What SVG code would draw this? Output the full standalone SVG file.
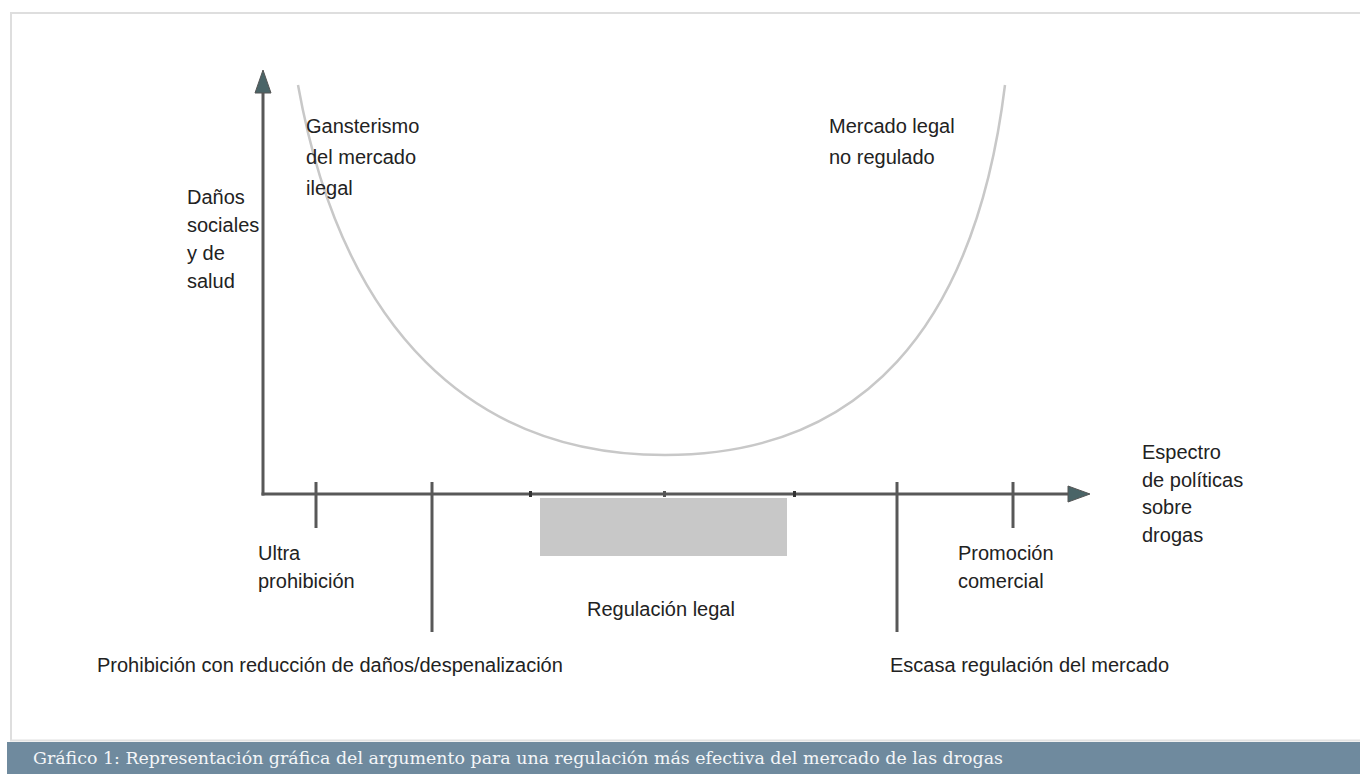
<svg xmlns="http://www.w3.org/2000/svg" width="1360" height="774" viewBox="0 0 1360 774">
<style>
.lbl{font-family:"Liberation Sans",Arial,sans-serif;font-size:20px;fill:#222}
.ax{stroke:#585858;stroke-width:3;fill:none}
.tick{stroke:#585858;stroke-width:3}
.cap{font-family:"DejaVu Serif","Liberation Serif",serif;font-size:17.5px;fill:#f4f6f8}
</style>
<rect width="1360" height="774" fill="#ffffff"/>
<g id="frame">
<path d="M11 741 V13 H1360" fill="none" stroke="#dedede" stroke-width="2"/>
<line x1="10" y1="740.5" x2="1360" y2="740.5" stroke="#e2e2e2" stroke-width="2"/>
<rect x="7" y="742" width="1353" height="32" fill="#6f8a9e"/>
<text class="cap" x="33" y="764" textLength="970" lengthAdjust="spacingAndGlyphs">Gráfico 1: Representación gráfica del argumento para una regulación más efectiva del mercado de las drogas</text>
</g>
<g id="curve">
<path d="M298 85 C342 330 472 455 665 455 C860 455 975 330 1005 85" fill="none" stroke="#c8c8c8" stroke-width="2.5"/>
</g>
<g id="band">
<rect x="540" y="498" width="247" height="58" fill="#c8c8c8"/>
</g>
<g id="connectors">
<line class="ax" x1="263" y1="495.5" x2="263" y2="90"/>
<polygon points="263,70 255,93 271,93" fill="#4a6467" stroke="#555" stroke-width="1"/>
<line class="ax" x1="261.5" y1="494" x2="1072" y2="494"/>
<polygon points="1090,494 1068,486 1068,502" fill="#4a6467" stroke="#555" stroke-width="1"/>
<line class="tick" x1="316" y1="482" x2="316" y2="528"/>
<line class="tick" x1="432" y1="482" x2="432" y2="632"/>
<line class="tick" x1="897" y1="482" x2="897" y2="632"/>
<line class="tick" x1="1013" y1="482" x2="1013" y2="528"/>
<rect x="529" y="491" width="3" height="6" fill="#333"/>
<rect x="663" y="491" width="3" height="6" fill="#555"/>
<rect x="793" y="491" width="3" height="6" fill="#333"/>
</g>
<g id="label-gansterismo">
<text class="lbl" x="306" y="133">Gansterismo</text>
<text class="lbl" x="306" y="164">del mercado</text>
<text class="lbl" x="306" y="195">ilegal</text>
</g>
<g id="label-mercado-legal">
<text class="lbl" x="829" y="133">Mercado legal</text>
<text class="lbl" x="829" y="164">no regulado</text>
</g>
<g id="label-danos">
<text class="lbl" x="187" y="204">Daños</text>
<text class="lbl" x="187" y="232">sociales</text>
<text class="lbl" x="187" y="260">y de</text>
<text class="lbl" x="187" y="288">salud</text>
</g>
<g id="label-espectro">
<text class="lbl" x="1142" y="459">Espectro</text>
<text class="lbl" x="1142" y="487">de políticas</text>
<text class="lbl" x="1142" y="514">sobre</text>
<text class="lbl" x="1142" y="542">drogas</text>
</g>
<g id="label-ultra">
<text class="lbl" x="258" y="560">Ultra</text>
<text class="lbl" x="258" y="588">prohibición</text>
</g>
<g id="label-regulacion">
<text class="lbl" x="587" y="616">Regulación legal</text>
</g>
<g id="label-promocion">
<text class="lbl" x="958" y="560">Promoción</text>
<text class="lbl" x="958" y="588">comercial</text>
</g>
<g id="label-prohibicion-reduccion">
<text class="lbl" x="97" y="672">Prohibición con reducción de daños/despenalización</text>
</g>
<g id="label-escasa">
<text class="lbl" x="890" y="672">Escasa regulación del mercado</text>
</g>
</svg>
